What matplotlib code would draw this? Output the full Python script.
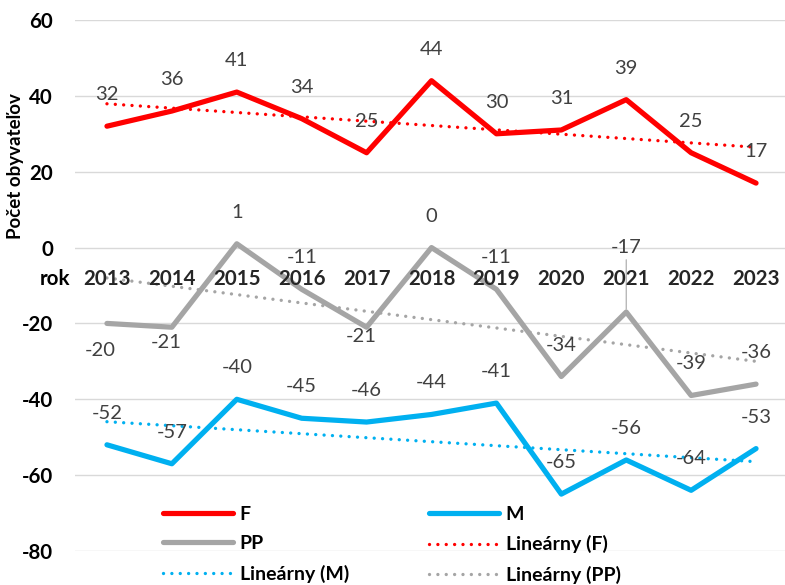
import numpy as np
import matplotlib
matplotlib.use('Agg')
import matplotlib.pyplot as plt

# ---------------- data ----------------
years = ['2013', '2014', '2015', '2016', '2017', '2018', '2019', '2020', '2021', '2022', '2023']
f_vals = [32, 36, 41, 34, 25, 44, 30, 31, 39, 25, 17]
m_vals = [-52, -57, -40, -45, -46, -44, -41, -65, -56, -64, -53]
pp_vals = [-20, -21, 1, -11, -21, 0, -11, -34, -17, -39, -36]
y_ticks = [-80, -60, -40, -20, 0, 20, 40, 60]
series_names = ['F', 'M', 'PP']
trend_prefix = 'Lineárny'
y_title = 'Počet obyvateľov'
x_title = 'rok'

# ---------------- styles / positions ----------------
colors = {'F': '#FF0000', 'M': '#00B0F0', 'PP': '#A5A5A5'}
DEFAULT_OFF = (0, 22.7)  # points, label centre relative to point
label_offsets = {
    'F': [DEFAULT_OFF] * 11,
    'M': [DEFAULT_OFF] * 11,
    'PP': [(-5, -19.4), (-4.3, -10.8), DEFAULT_OFF, DEFAULT_OFF, (-3.6, -6.5),
           DEFAULT_OFF, DEFAULT_OFF, DEFAULT_OFF, (0, 46.8), DEFAULT_OFF, DEFAULT_OFF],
}
leader_idx = {'PP': [8]}

FONT = ['Lato', 'DejaVu Sans']
plt.rcParams['font.family'] = FONT

W, H = 785, 585
fig = plt.figure(figsize=(W / 100, H / 100), dpi=100)
ax = fig.add_axes([74.5 / W, 1 - 551 / H, 714 / W, 531 / H])

x = np.arange(len(years))
data = {'F': f_vals, 'M': m_vals, 'PP': pp_vals}

handles = {}
for name in series_names:
    vals = np.array(data[name], dtype=float)
    ln, = ax.plot(x, vals, color=colors[name], lw=3.75, solid_capstyle='round',
                  solid_joinstyle='round', zorder=3)
    handles[name] = ln

trend_handles = {}
for name in series_names:
    vals = np.array(data[name], dtype=float)
    k, b = np.polyfit(x, vals, 1)
    tl, = ax.plot(x, k * x + b, color=colors[name], lw=2.4,
                  linestyle=(0, (0.01, 2.5)), dash_capstyle='round', zorder=4)
    trend_handles[name] = tl

# data labels
for name in series_names:
    vals = data[name]
    for i, v in enumerate(vals):
        dx, dy = label_offsets[name][i]
        kw = {}
        if i in leader_idx.get(name, []):
            kw['arrowprops'] = dict(arrowstyle='-', color='#A6A6A6', lw=0.8,
                                    shrinkA=1, shrinkB=2)
        ax.annotate(str(v), (i, v), xytext=(dx, dy), textcoords='offset points',
                    ha='center', va='center', fontsize=14.5, color='#404040',
                    zorder=6, **kw)

# category labels along the zero line
for i, yr in enumerate(years):
    ax.annotate(yr, (i, 0), xytext=(0, -22.5), textcoords='offset points',
                ha='center', va='center', fontsize=14.8, fontweight='bold',
                color='#262626', zorder=7)
ax.annotate(x_title, (-0.5, 0), xytext=(-3.2, -22.5), textcoords='offset points',
            ha='right', va='center', fontsize=14.8, fontweight='bold',
            color='#000000', annotation_clip=False)

ax.set_xlim(-0.5, len(years) - 0.5)
ax.set_ylim(min(y_ticks), max(y_ticks))
ax.set_yticks(y_ticks)
ax.set_yticklabels([str(t) for t in y_ticks], fontsize=14.8, fontweight='bold')
ax.tick_params(axis='y', length=0, pad=15.5, colors='#000000')
ax.set_xticks([])
ax.yaxis.grid(True, color='#D9D9D9', lw=1.0)
ax.set_axisbelow(True)
for s in ax.spines.values():
    s.set_visible(False)

fig.text(16 / W, 1 - 166 / H, y_title, rotation=90, ha='center', va='center',
         fontsize=13.5, fontweight='bold', color='#000000')

# legend (row-major order via column-major fill)
order = [handles['F'], handles['PP'], trend_handles['M'],
         handles['M'], trend_handles['F'], trend_handles['PP']]
labels = ['F', 'PP', f'{trend_prefix} (M)', 'M', f'{trend_prefix} (F)', f'{trend_prefix} (PP)']
fig.legend(order, labels, ncol=2, loc='upper left',
           bbox_to_anchor=(162.7 / W, 1 - 506 / H), frameon=False,
           prop=dict(weight='bold', size=14), handlelength=3.6, handletextpad=0.36,
           columnspacing=4.1, labelspacing=0.63, borderpad=0, borderaxespad=0)

fig.savefig('out.png', dpi=100)
